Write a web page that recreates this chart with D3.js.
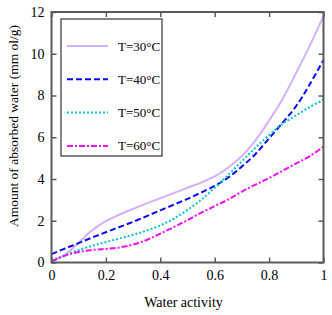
<!DOCTYPE html>
<html>
<head>
<meta charset="utf-8">
<script src="https://cdn.jsdelivr.net/npm/d3@7"></script>
<style>
  body { margin: 0; background: #fff; }
  svg text { font-family: "Liberation Serif", "Times New Roman", Times, "DejaVu Serif", serif !important; fill: #000; }
</style>
</head>
<body>
<div id="chart"></div>
<script>
// water activity grid
const aw = [0, 0.05, 0.1, 0.15, 0.2, 0.25, 0.3, 0.35, 0.4, 0.45, 0.5,
            0.55, 0.6, 0.65, 0.7, 0.75, 0.8, 0.85, 0.9, 0.95, 1.0];

// absorbed water, mmol/g
const t30 = [0.05, 0.38, 0.95, 1.55, 1.98, 2.3, 2.57, 2.83, 3.08, 3.33, 3.58,
             3.83, 4.12, 4.55, 5.1, 5.85, 6.8, 7.85, 9.1, 10.4, 11.8];
const t40 = [0.4, 0.67, 0.93, 1.2, 1.45, 1.7, 1.95, 2.22, 2.5, 2.77, 3.05,
             3.35, 3.67, 4.07, 4.6, 5.2, 5.95, 6.7, 7.5, 8.55, 9.7];
const t50 = [0.1, 0.35, 0.6, 0.8, 0.98, 1.15, 1.33, 1.53, 1.78, 2.1, 2.52,
             3.0, 3.58, 4.2, 4.85, 5.5, 6.1, 6.65, 7.05, 7.45, 7.8];
const t60 = [0.05, 0.33, 0.5, 0.6, 0.65, 0.72, 0.86, 1.08, 1.38, 1.7, 2.03,
             2.38, 2.7, 3.02, 3.4, 3.73, 4.05, 4.4, 4.75, 5.1, 5.55];

const seriesNames = ["T=30°C", "T=40°C", "T=50°C", "T=60°C"];
const xTicks = [0, 0.2, 0.4, 0.6, 0.8, 1];
const yTicks = [0, 2, 4, 6, 8, 10, 12];

const series = [
  {name: seriesNames[0], values: t30, color: "#d4b0fa", dash: null},
  {name: seriesNames[1], values: t40, color: "#0a0af0", dash: "6,3"},
  {name: seriesNames[2], values: t50, color: "#10c0c8", dash: "2,2"},
  {name: seriesNames[3], values: t60, color: "#f010f0", dash: "6,2,2,2"}
];

const W = 332, H = 315;
const margin = {top: 12, right: 8.5, bottom: 52.5, left: 51.5};
const width = W - margin.left - margin.right;
const height = H - margin.top - margin.bottom;

const svg = d3.select("#chart").append("svg")
  .attr("width", W).attr("height", H);

const g = svg.append("g")
  .attr("transform", `translate(${margin.left},${margin.top})`);

const x = d3.scaleLinear().domain([0, 1]).range([0, width]);
const y = d3.scaleLinear().domain([0, 12]).range([height, 0]);

// curves
const line = d3.line()
  .x(d => x(d[0]))
  .y(d => y(d[1]))
  .curve(d3.curveCatmullRom.alpha(0.5));

series.forEach(s => {
  g.append("path")
    .datum(aw.map((a, i) => [a, s.values[i]]))
    .attr("fill", "none")
    .attr("stroke", s.color)
    .attr("stroke-width", 2)
    .attr("stroke-dasharray", s.dash)
    .attr("d", line);
});

// axes with inward ticks, mirrored on top/right
const axisColor = "#5a5a5a";
const xAxisG = g.append("g").attr("transform", `translate(0,${height})`)
  .call(d3.axisBottom(x).tickValues(xTicks).tickSize(-5).tickPadding(8).tickFormat(d3.format("~g")));
const yAxisG = g.append("g")
  .call(d3.axisLeft(y).tickValues(yTicks).tickSize(-5).tickPadding(7));
const x2AxisG = g.append("g")
  .call(d3.axisTop(x).tickValues(xTicks).tickSize(-5).tickFormat(""));
const y2AxisG = g.append("g").attr("transform", `translate(${width},0)`)
  .call(d3.axisRight(y).tickValues(yTicks).tickSize(-5).tickFormat(""));

[xAxisG, yAxisG, x2AxisG, y2AxisG].forEach(a => {
  a.select(".domain").remove();
  a.selectAll(".tick line").attr("stroke", axisColor).attr("stroke-width", 1.5);
  a.selectAll("text").attr("font-size", 14);
});

g.append("rect")
  .attr("width", width).attr("height", height)
  .attr("fill", "none").attr("stroke", axisColor).attr("stroke-width", 2);

// legend
const legend = svg.append("g");
legend.append("rect")
  .attr("x", 61).attr("y", 19).attr("width", 101).attr("height", 137)
  .attr("fill", "#fff").attr("stroke", "#333").attr("stroke-width", 1.2);

series.forEach((s, i) => {
  const ly = 46 + i * 33.3;
  legend.append("line")
    .attr("x1", 67).attr("x2", 108).attr("y1", ly).attr("y2", ly)
    .attr("stroke", s.color).attr("stroke-width", 2)
    .attr("stroke-dasharray", s.dash);
  legend.append("text")
    .attr("x", 118).attr("y", ly + 4.5)
    .attr("font-size", 13)
    .text(s.name);
});

// axis labels
svg.append("text")
  .attr("x", margin.left + width / 2 - 4).attr("y", 307)
  .attr("text-anchor", "middle").attr("font-size", 14)
  .text("Water activity");

svg.append("text")
  .attr("transform", `translate(18,126) rotate(-90)`)
  .attr("text-anchor", "middle").attr("font-size", 13.5)
  .text("Amount of absorbed water (mm ol/g)");
</script>
</body>
</html>
